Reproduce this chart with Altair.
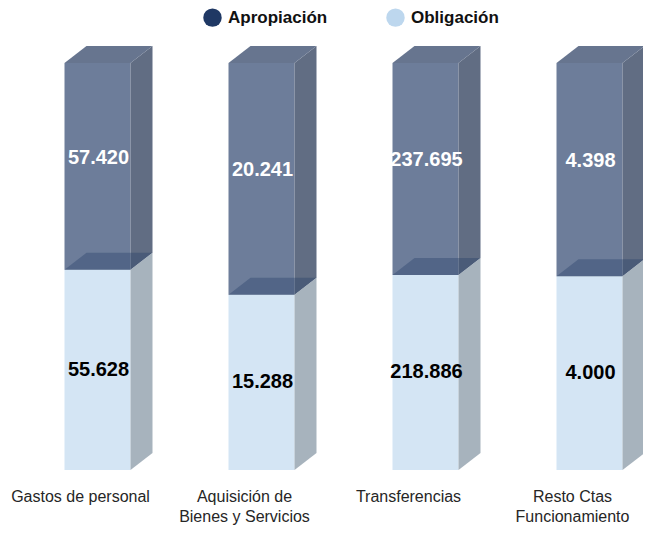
import altair as alt
import pandas as pd

# ---- data ----
categories = ["Gastos de personal", "Aquisición de\nBienes y Servicios",
              "Transferencias", "Resto Ctas\nFuncionamiento"]
apropiacion = [57420, 20241, 237695, 4398]
obligacion = [55628, 15288, 218886, 4000]
series = ["Apropiación", "Obligación"]
series_colors = ["#1f3864", "#bdd7ee"]

# ---- layout constants (pixel geometry of the pseudo-3D bars) ----
PAD_TOP = 12
W, H = 635, 519 - PAD_TOP
SLOT = 164.0          # px between bars
X0 = 56.5             # plot-x of first bar front-left edge
BAR_PX, DX_PX = 66.0, 22.0
Y_BASE, BAR_H = 462.0 - PAD_TOP, 407.0   # plot-y of bar bottom and bar height (px)
DY_PX = 17.0

BW = BAR_PX / SLOT
DX = DX_PX / SLOT
DY = DY_PX / BAR_H
x_dom = [-X0 / SLOT, (W - X0) / SLOT]
y_dom = [(Y_BASE - H) / BAR_H, Y_BASE / BAR_H]

def fmt(v):
    return f"{v:,}".replace(",", ".")

front, sides, tops, mids, labels = [], [], [], [], []
for i, (a, o) in enumerate(zip(apropiacion, obligacion)):
    share = o / (a + o)
    segs = [("Obligación", 0.0, share, "low"), ("Apropiación", share, 1.0, "up")]
    for name, lo, hi, pos in segs:
        front.append(dict(serie=name, x=i, x2=i + BW, y=lo, y2=hi))
        key = f"{i}-{pos}"
        sides.append(dict(k=key, pos=pos, x=i + BW, y=lo, y2=hi))
        sides.append(dict(k=key, pos=pos, x=i + BW + DX, y=lo + DY, y2=hi + DY))
    for lvl, lst in ((1.0, tops), (share, mids)):
        k = str(i)
        lst.append(dict(k=k, x=i, y=lvl, y2=lvl))
        lst.append(dict(k=k, x=i + DX, y=lvl, y2=lvl + DY))
        lst.append(dict(k=k, x=i + BW, y=lvl, y2=lvl + DY))
        lst.append(dict(k=k, x=i + BW + DX, y=lvl + DY, y2=lvl + DY))
    labels.append(dict(x=i + BW / 2 + 1 / SLOT, y=share / 2, t=fmt(o), pos="low"))
    labels.append(dict(x=i + BW / 2 + 1 / SLOT, y=(share + 1 + DY) / 2, t=fmt(a), pos="up"))

front_df = pd.DataFrame(front)
side_df = pd.DataFrame(sides)
top_df = pd.DataFrame(tops)
mid_df = pd.DataFrame(mids)
lab_df = pd.DataFrame(labels)
cat_df = pd.DataFrame(dict(x=[i + 16 / SLOT for i in range(len(categories))],
                           y=[-19 / BAR_H] * len(categories),
                           t=categories))

xs = alt.Scale(domain=x_dom, nice=False, zero=False)
ys = alt.Scale(domain=y_dom, nice=False, zero=False)
X = lambda f: alt.X(f, type="quantitative", scale=xs, axis=None)
Y = lambda f: alt.Y(f, type="quantitative", scale=ys, axis=None)

fronts = alt.Chart(front_df).mark_rect(opacity=0.65).encode(
    x=X("x"), x2="x2", y=Y("y"), y2="y2",
    color=alt.Color("serie:N",
                    scale=alt.Scale(domain=series, range=series_colors),
                    legend=alt.Legend(title=None, orient="none", direction="horizontal",
                                      legendX=195, legendY=-PAD_TOP, padding=0,
                                      symbolType="circle", symbolSize=340,
                                      symbolOpacity=1, symbolStrokeWidth=0,
                                      labelFontSize=17, labelFontWeight="bold",
                                      labelFont="Liberation Sans", labelColor="#111111",
                                      labelOffset=6, columnPadding=58)),
)

side_up = alt.Chart(side_df).transform_filter("datum.pos == 'up'").mark_area(
    orient="vertical", color="#616d83").encode(x=X("x"), y=Y("y"), y2="y2", detail="k:N")
side_low = alt.Chart(side_df).transform_filter("datum.pos == 'low'").mark_area(
    orient="vertical", color="#a7b3bd").encode(x=X("x"), y=Y("y"), y2="y2", detail="k:N")
top_face = alt.Chart(top_df).mark_area(orient="vertical", color="#67758f").encode(
    x=X("x"), y=Y("y"), y2="y2", detail="k:N")
mid_face = alt.Chart(mid_df).mark_area(orient="vertical", color="#1f3864", opacity=0.35).encode(
    x=X("x"), y=Y("y"), y2="y2", detail="k:N")

lab_up = alt.Chart(lab_df).transform_filter("datum.pos == 'up'").mark_text(
    font="Liberation Sans", fontSize=20, fontWeight="bold", color="white",
    baseline="middle", align="center").encode(x=X("x"), y=Y("y"), text="t:N")
lab_low = alt.Chart(lab_df).transform_filter("datum.pos == 'low'").mark_text(
    font="Liberation Sans", fontSize=20, fontWeight="bold", color="black",
    baseline="middle", align="center").encode(x=X("x"), y=Y("y"), text="t:N")

cats = alt.Chart(cat_df).mark_text(
    font="Liberation Sans", fontSize=16, color="#262626", baseline="top",
    align="center", lineBreak="\n", lineHeight=20).encode(x=X("x"), y=Y("y"), text="t:N")

chart = alt.layer(fronts, side_up, side_low, top_face, mid_face, lab_up, lab_low, cats).properties(
    width=W, height=H, background="white",
    padding={"top": PAD_TOP, "left": 0, "right": 0, "bottom": 0},
    autosize=alt.AutoSizeParams(type="none"),
).configure_view(strokeWidth=0)

chart.save("out.html", embed_options={"renderer": "svg", "actions": False})
